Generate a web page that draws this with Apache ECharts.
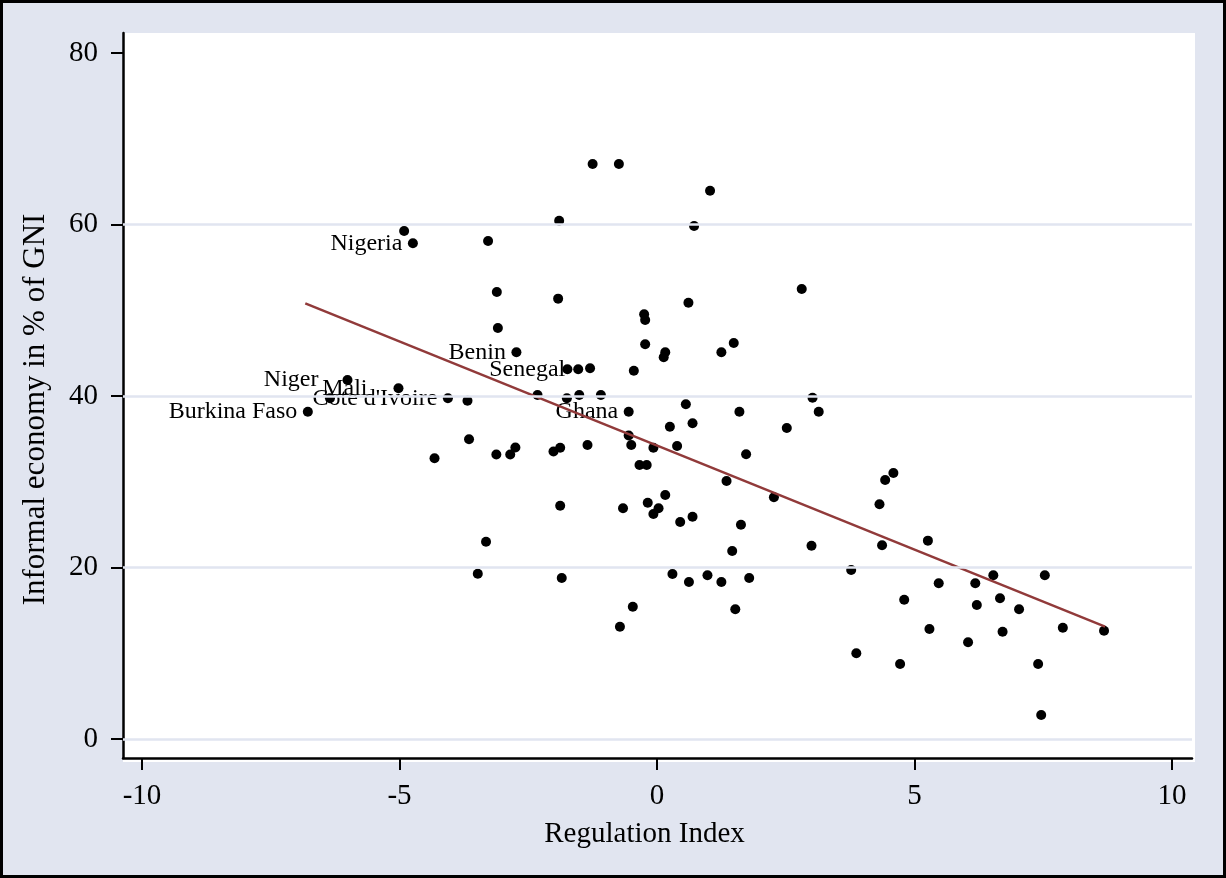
<!DOCTYPE html>
<html>
<head>
<meta charset="utf-8">
<script src="https://cdn.jsdelivr.net/npm/echarts@6/dist/echarts.min.js"></script>
<style>
html,body{margin:0;padding:0;background:#e1e5f0;}
#c{width:1226px;height:878px;}
</style>
</head>
<body>
<div id="c"></div>
<script>
// ---- data ----
const regulationIndex = [
  -4.91, -4.74, -3.28, -1.90, -1.25, -0.74, 1.03, 0.72, -3.11, -1.92,
  0.61, 2.81, -3.09, -0.25, -0.23, -0.23, 0.16, 0.13, 1.25, 1.49,
  -2.73, -1.74, -1.53, -1.30, -0.45, -2.32, -1.75, -1.51, -1.09, -0.55,
  0.56, 1.60, 3.02, 3.14, 0.25, 0.69, 2.52, -0.55, -0.50, -0.07,
  0.39, -1.35, -1.88, -2.01, 1.73, -0.34, -0.20, 1.35, 2.27, 0.16,
  -1.88, -0.66, -0.18, 0.03, -0.07, 0.69, 0.45, 1.63, 3.00, 1.46,
  -1.85, 0.30, 0.62, 0.98, 1.25, 1.79, 3.77, -0.47, 1.52, -0.72,
  -3.65, -4.32, -3.12, -2.85, -2.75, -3.32, -3.48, -6.01, -5.02, -6.35,
  -4.06, -3.68, -6.78, 4.59, 4.43, 4.32, 4.37, 5.26, 6.53, 7.53,
  5.47, 6.18, 4.80, 6.21, 6.66, 7.03, 5.29, 6.71, 7.88, 8.68,
  6.04, 3.87, 4.72, 7.40, 7.46
];
const informalEconomy = [
  59.24, 57.81, 58.08, 60.44, 67.06, 67.06, 63.94, 59.82, 52.13, 51.35,
  50.88, 52.48, 47.93, 49.53, 48.86, 46.03, 45.10, 44.51, 45.10, 46.18,
  45.10, 43.11, 43.11, 43.23, 42.95, 40.12, 39.73, 40.12, 40.12, 38.17,
  39.03, 38.17, 39.80, 38.17, 36.42, 36.82, 36.27, 35.39, 34.29, 33.97,
  34.17, 34.29, 33.97, 33.53, 33.20, 31.95, 31.95, 30.09, 28.19, 28.45,
  27.21, 26.90, 27.56, 26.90, 26.24, 25.92, 25.31, 24.99, 22.54, 21.92,
  18.78, 19.24, 18.31, 19.09, 18.31, 18.78, 19.71, 15.43, 15.13, 13.10,
  34.95, 32.73, 33.18, 33.18, 33.99, 23.01, 19.28, 41.87, 40.90, 39.73,
  39.73, 39.45, 38.17, 31.02, 30.20, 27.37, 22.59, 23.13, 19.09, 19.09,
  18.16, 18.16, 16.24, 15.63, 16.41, 15.13, 12.83, 12.51, 12.98, 12.63,
  11.28, 9.99, 8.75, 8.75, 2.80
];
const countryLabels = [
  '', 'Nigeria', '', '', '', '', '', '', '', '',
  '', '', '', '', '', '', '', '', '', '',
  'Benin', '', 'Senegal', '', '', '', '', '', '', 'Ghana',
  '', '', '', '', '', '', '', '', '', '',
  '', '', '', '', '', '', '', '', '', '',
  '', '', '', '', '', '', '', '', '', '',
  '', '', '', '', '', '', '', '', '', '',
  '', '', '', '', '', '', '', 'Niger', 'Mali', '',
  "Cote d'Ivoire", '', 'Burkina Faso', '', '', '', '', '', '', '',
  '', '', '', '', '', '', '', '', '', '',
  '', '', '', '', ''
];
const fitX = [-6.83, 8.70];
const fitY = [50.8, 13.1];
const xTicks = [-10, -5, 0, 5, 10];
const yTicks = [0, 20, 40, 60, 80];
const yGridValues = [0, 20, 40, 60];

// ---- styling ----
const FONT = 'Liberation Serif';
const labelGap = { 'Niger': 24, 'Mali': 26, 'Senegal': 8 };

const scatterData = regulationIndex.map((x, i) => {
  const item = { value: [x, informalEconomy[i]] };
  const name = countryLabels[i];
  if (name) {
    item.label = { show: true, formatter: name, distance: labelGap[name] || 5.5 };
  }
  return item;
});

const chart = echarts.init(document.getElementById('c'), null, { renderer: 'canvas' });
chart.setOption({
  animation: false,
  backgroundColor: '#e1e5f0',
  graphic: [
    { type: 'rect', z: -100, shape: { x: 123, y: 33, width: 1072, height: 729 }, style: { fill: '#ffffff' } },
    { type: 'rect', z: 100, shape: { x: 1.5, y: 1.5, width: 1223, height: 875 }, style: { fill: 'none', stroke: '#000', lineWidth: 3 } }
  ],
  grid: { left: 123, right: 34, top: 33, bottom: 120, containLabel: false },
  xAxis: {
    type: 'value',
    min: -10.369, max: 10.388,
    name: 'Regulation Index',
    nameLocation: 'middle',
    nameGap: 62,
    nameTextStyle: { fontFamily: FONT, fontSize: 29, color: '#000', padding: [0, 26, 0, 0] },
    axisLine: { show: true, onZero: false, lineStyle: { color: '#000', width: 2.5 } },
    axisTick: { show: true, customValues: xTicks, length: 12, inside: false, lineStyle: { color: '#000', width: 2 } },
    axisLabel: { customValues: xTicks, margin: 24, fontFamily: FONT, fontSize: 29, color: '#000' },
    splitLine: { show: false }
  },
  yAxis: {
    type: 'value',
    min: -2.216, max: 82.33,
    name: 'Informal economy in % of GNI',
    nameLocation: 'middle',
    nameGap: 72,
    nameTextStyle: { fontFamily: FONT, fontSize: 31, color: '#000', padding: [0, 28, 0, 0] },
    axisLine: { show: true, onZero: false, lineStyle: { color: '#000', width: 2.5 } },
    axisTick: { show: true, customValues: yTicks, length: 12, inside: false, lineStyle: { color: '#000', width: 2 } },
    axisLabel: { customValues: yTicks, margin: 25, fontFamily: FONT, fontSize: 29, color: '#000', padding: [0, 0, 12, 0] },
    splitLine: { show: false }
  },
  series: [
    {
      type: 'scatter',
      data: [],
      z: 1,
      silent: true,
      markLine: {
        silent: true,
        symbol: 'none',
        label: { show: false },
        lineStyle: { color: '#e1e5f0', width: 2.5, type: 'solid', opacity: 1 },
        emphasis: { disabled: true },
        data: yGridValues.map(v => ({ yAxis: v }))
      }
    },
    {
      type: 'scatter',
      z: 2,
      symbol: 'circle',
      symbolSize: 10,
      itemStyle: { color: '#000', opacity: 1 },
      label: { show: false, position: 'left', fontFamily: FONT, fontSize: 24, color: '#000', opacity: 1 },
      labelLayout: { hideOverlap: false },
      emphasis: { disabled: true },
      data: scatterData
    },
    {
      type: 'line',
      z: 3,
      symbol: 'none',
      lineStyle: { color: '#913a3a', width: 2.5, opacity: 1 },
      emphasis: { disabled: true },
      data: fitX.map((x, i) => [x, fitY[i]])
    }
  ]
});
</script>
</body>
</html>
